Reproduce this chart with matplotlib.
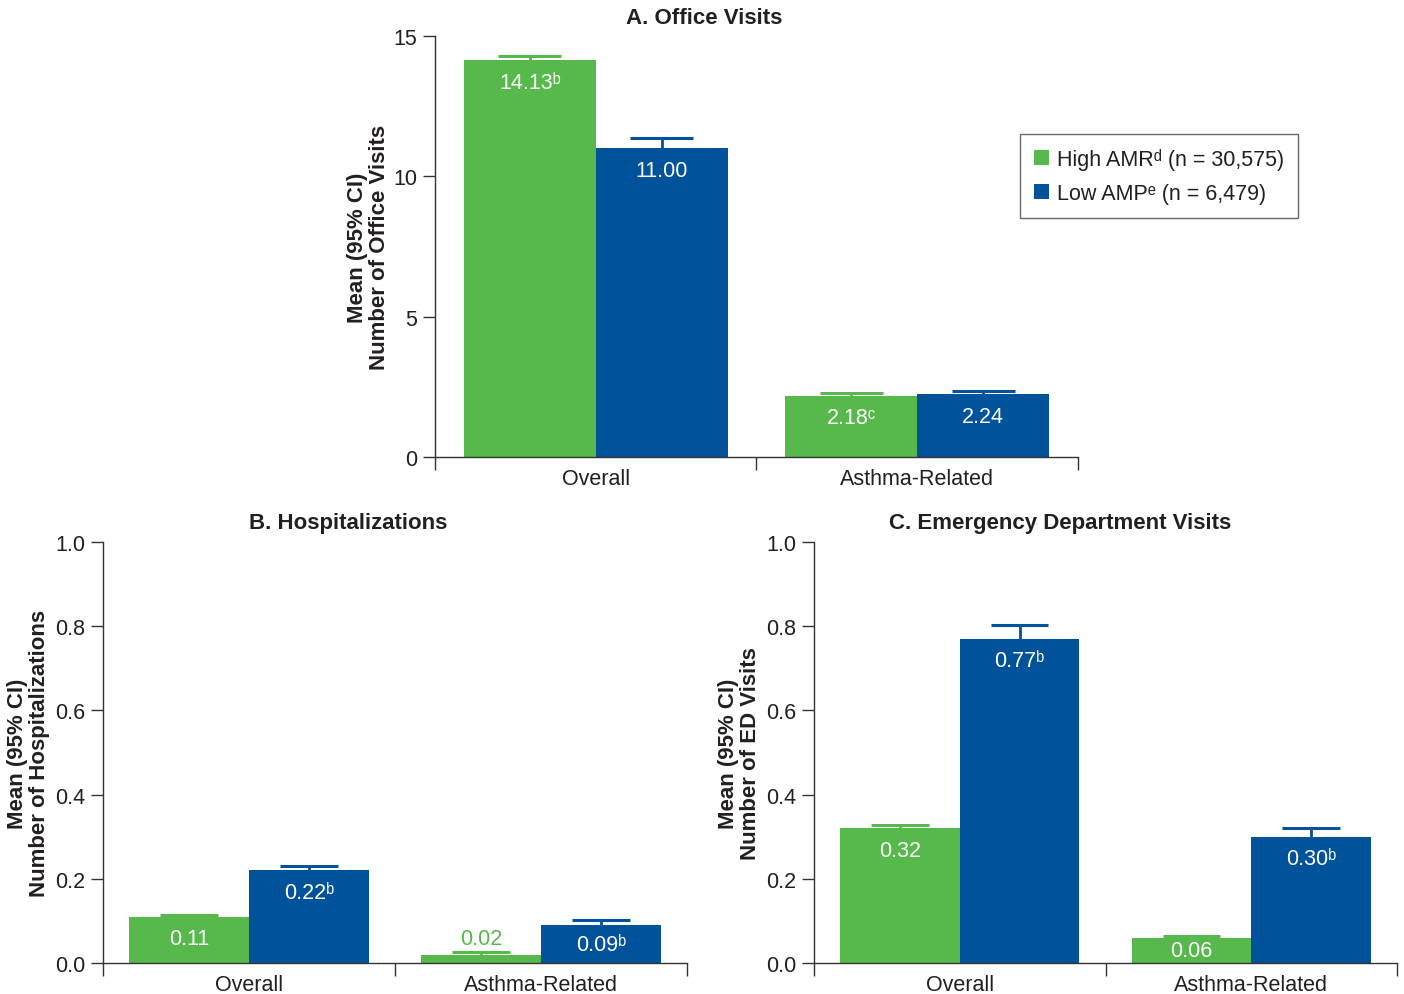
import numpy as np
import matplotlib
matplotlib.use("Agg")
import matplotlib.pyplot as plt
from matplotlib.patches import Patch

plt.rcParams['font.family'] = ['Liberation Sans', 'DejaVu Sans']

GREEN = '#57b94b'
BLUE = '#00529b'
DARK = '#231f20'

groups = ['Overall', 'Asthma-Related']
series = ['High AMR\u1d48 (n = 30,575)', 'Low AMP\u1d49 (n = 6,479)']

# panel A: office visits
office_high = [14.13, 2.18]
office_low = [11.00, 2.24]
office_high_ci = [14.29, 2.28]
office_low_ci = [11.36, 2.35]
office_high_lbl = ['14.13\u1d47', '2.18\u1d9c']
office_low_lbl = ['11.00', '2.24']

# panel B: hospitalizations
hosp_high = [0.11, 0.02]
hosp_low = [0.22, 0.09]
hosp_high_ci = [0.114, 0.026]
hosp_low_ci = [0.23, 0.102]
hosp_high_lbl = ['0.11', '0.02']
hosp_low_lbl = ['0.22\u1d47', '0.09\u1d47']

# panel C: ED visits
ed_high = [0.32, 0.06]
ed_low = [0.77, 0.30]
ed_high_ci = [0.328, 0.064]
ed_low_ci = [0.803, 0.32]
ed_high_lbl = ['0.32', '0.06']
ed_low_lbl = ['0.77\u1d47', '0.30\u1d47']


def draw_panel(ax, high, low, high_ci, low_ci, high_lbl, low_lbl, yticks, fmt, ylabel, lab_x):
    fig = ax.figure
    x = np.arange(len(groups)) + 0.5
    w = 0.41
    ymax = yticks[-1]
    ax.set_xlim(0, len(groups))
    ax.set_ylim(0, ymax)

    bbox = ax.get_position()
    ax_h_px = bbox.height * fig.get_figheight() * fig.dpi

    for vals, ci, lbls, col, off in [(high, high_ci, high_lbl, GREEN, -w / 2),
                                     (low, low_ci, low_lbl, BLUE, w / 2)]:
        pos = x + off
        # upper half of the CI only: stem + cap
        ax.vlines(pos, vals, ci, color=col, lw=2, zorder=1)
        ax.hlines(ci, pos - w * 0.24, pos + w * 0.24, color=col, lw=2.2, zorder=1)
        ax.bar(pos, vals, width=w, color=col, zorder=2)
        for p, v, t in zip(pos, vals, lbls):
            h_px = v / ymax * ax_h_px
            if h_px < 15:
                ax.annotate(t, (p, v), xytext=(0, 16), textcoords='offset pixels',
                            ha='center', va='center', color=col, fontsize=15.5)
            else:
                dy = min(22, h_px / 2)
                ax.annotate(t, (p, v), xytext=(0, -dy), textcoords='offset pixels',
                            ha='center', va='center', color='white', fontsize=15.5, zorder=3)

    ax.set_yticks(yticks)
    ax.set_yticklabels([fmt.format(t) for t in yticks])
    ax.set_xticks(x)
    ax.set_xticklabels(groups)
    ax.set_xticks(np.arange(len(groups) + 1), minor=True)
    ax.tick_params(axis='x', which='major', length=0, pad=8, labelsize=15.5, labelcolor=DARK)
    ax.tick_params(axis='x', which='minor', length=9, width=1, color='#333333')
    ax.tick_params(axis='y', length=9, width=1, color='#333333', labelsize=15.5, labelcolor=DARK, pad=4)
    for s in ['top', 'right']:
        ax.spines[s].set_visible(False)
    for s in ['left', 'bottom']:
        ax.spines[s].set_color('#333333')
        ax.spines[s].set_linewidth(1)
    ax.set_ylabel(ylabel, fontsize=16, fontweight='bold', color=DARK, linespacing=1.05)
    ax.yaxis.set_label_coords(lab_x, 0.5)


fig = plt.figure(figsize=(14.04, 9.95), dpi=100)
axA = fig.add_axes([0.3098, 0.5397, 0.4580, 0.4231])
axB = fig.add_axes([0.0734, 0.0312, 0.4159, 0.4231])
axC = fig.add_axes([0.5798, 0.0312, 0.4152, 0.4231])

draw_panel(axA, office_high, office_low, office_high_ci, office_low_ci,
           office_high_lbl, office_low_lbl, [0, 5, 10, 15], '{:.0f}',
           'Mean (95% CI)\nNumber of Office Visits', -0.07)
draw_panel(axB, hosp_high, hosp_low, hosp_high_ci, hosp_low_ci,
           hosp_high_lbl, hosp_low_lbl, [0, 0.2, 0.4, 0.6, 0.8, 1.0], '{:.1f}',
           'Mean (95% CI)\nNumber of Hospitalizations', -0.091)
draw_panel(axC, ed_high, ed_low, ed_high_ci, ed_low_ci,
           ed_high_lbl, ed_low_lbl, [0, 0.2, 0.4, 0.6, 0.8, 1.0], '{:.1f}',
           'Mean (95% CI)\nNumber of ED Visits', -0.091)

fig.text(704 / 1404, 1 - 18 / 995, 'A. Office Visits', ha='center', va='center',
         fontsize=16, fontweight='bold', color=DARK)
fig.text(348 / 1404, 1 - 524 / 995, 'B. Hospitalizations', ha='center', va='center',
         fontsize=16, fontweight='bold', color=DARK)
fig.text(1060 / 1404, 1 - 524 / 995, 'C. Emergency Department Visits', ha='center', va='center',
         fontsize=16, fontweight='bold', color=DARK)

handles = [Patch(facecolor=GREEN, edgecolor='none'), Patch(facecolor=BLUE, edgecolor='none')]
leg = fig.legend(handles, series, loc='upper left', bbox_to_anchor=(1020 / 1404, 1 - 135 / 995),
                 frameon=True, fancybox=False, edgecolor='#444444', fontsize=15.5,
                 handlelength=0.7, handleheight=0.7, handletextpad=0.35,
                 borderpad=0.65, labelspacing=0.6, borderaxespad=0)
leg.get_frame().set_linewidth(1)
for t in leg.get_texts():
    t.set_color(DARK)

fig.savefig('out.png', dpi=100)
